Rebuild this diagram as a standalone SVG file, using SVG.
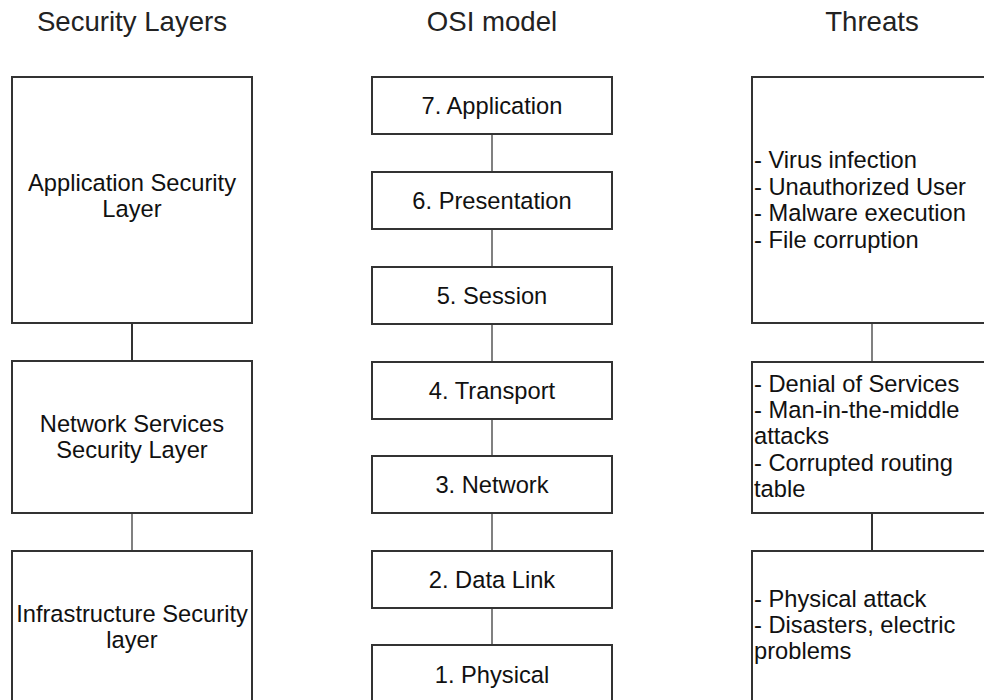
<svg xmlns="http://www.w3.org/2000/svg" width="984" height="700" viewBox="0 0 984 700">
  <style>
    .box { fill: #ffffff; stroke: #333333; stroke-width: 2; }
    .title { font-family: "Liberation Sans", Arial, sans-serif; font-size: 27.6px; fill: #222222; text-anchor: middle; }
    .lbl { font-family: "Liberation Sans", Arial, sans-serif; font-size: 23.7px; fill: #111111; }
    .mid { text-anchor: middle; }
    .edge { stroke-width: 2; fill: none; }
    .dark { stroke: #333333; }
    .grey { stroke: #808080; }
  </style>
  <rect width="984" height="700" fill="#ffffff"/>

  <!-- column headings -->
  <g id="headings">
    <text class="title" x="132" y="31">Security Layers</text>
    <text class="title" x="492" y="31">OSI model</text>
    <text class="title" x="872" y="31">Threats</text>
  </g>

  <!-- connectors -->
  <g id="connectors">
    <line class="edge dark" x1="132" y1="323" x2="132" y2="361"/>
    <line class="edge grey" x1="132" y1="513" x2="132" y2="551"/>
    <line class="edge grey" x1="492" y1="134" x2="492" y2="172"/>
    <line class="edge grey" x1="492" y1="229" x2="492" y2="267"/>
    <line class="edge grey" x1="492" y1="324" x2="492" y2="362"/>
    <line class="edge grey" x1="492" y1="419" x2="492" y2="456"/>
    <line class="edge grey" x1="492" y1="513" x2="492" y2="551"/>
    <line class="edge grey" x1="492" y1="608" x2="492" y2="645"/>
    <line class="edge grey" x1="872" y1="323" x2="872" y2="362"/>
    <line class="edge dark" x1="872" y1="513" x2="872" y2="551"/>
  </g>

  <!-- security layers -->
  <g id="app-security">
    <rect class="box" x="12" y="77" width="240" height="246"/>
    <text class="lbl mid" x="132" y="191">Application Security</text>
    <text class="lbl mid" x="132" y="217">Layer</text>
  </g>
  <g id="network-security">
    <rect class="box" x="12" y="361" width="240" height="152"/>
    <text class="lbl mid" x="132" y="432">Network Services</text>
    <text class="lbl mid" x="132" y="458">Security Layer</text>
  </g>
  <g id="infra-security">
    <rect class="box" x="12" y="551" width="240" height="160"/>
    <text class="lbl mid" x="132" y="622">Infrastructure Security</text>
    <text class="lbl mid" x="132" y="648">layer</text>
  </g>

  <!-- OSI layers -->
  <g id="osi-7">
    <rect class="box" x="372" y="77" width="240" height="57"/>
    <text class="lbl mid" x="492" y="114">7. Application</text>
  </g>
  <g id="osi-6">
    <rect class="box" x="372" y="172" width="240" height="57"/>
    <text class="lbl mid" x="492" y="209">6. Presentation</text>
  </g>
  <g id="osi-5">
    <rect class="box" x="372" y="267" width="240" height="57"/>
    <text class="lbl mid" x="492" y="304">5. Session</text>
  </g>
  <g id="osi-4">
    <rect class="box" x="372" y="362" width="240" height="57"/>
    <text class="lbl mid" x="492" y="399">4. Transport</text>
  </g>
  <g id="osi-3">
    <rect class="box" x="372" y="456" width="240" height="57"/>
    <text class="lbl mid" x="492" y="493">3. Network</text>
  </g>
  <g id="osi-2">
    <rect class="box" x="372" y="551" width="240" height="57"/>
    <text class="lbl mid" x="492" y="588">2. Data Link</text>
  </g>
  <g id="osi-1">
    <rect class="box" x="372" y="645" width="240" height="66"/>
    <text class="lbl mid" x="492" y="683">1. Physical</text>
  </g>

  <!-- threats -->
  <g id="threats-app">
    <rect class="box" x="752" y="77" width="240" height="246"/>
    <text class="lbl" x="754" y="168">- Virus infection</text>
    <text class="lbl" x="754" y="195">- Unauthorized User</text>
    <text class="lbl" x="754" y="221">- Malware execution</text>
    <text class="lbl" x="754" y="248">- File corruption</text>
  </g>
  <g id="threats-network">
    <rect class="box" x="752" y="362" width="240" height="151"/>
    <text class="lbl" x="754" y="392">- Denial of Services</text>
    <text class="lbl" x="754" y="418">- Man-in-the-middle</text>
    <text class="lbl" x="754" y="444">attacks</text>
    <text class="lbl" x="754" y="471">- Corrupted routing</text>
    <text class="lbl" x="754" y="497">table</text>
  </g>
  <g id="threats-infra">
    <rect class="box" x="752" y="551" width="240" height="160"/>
    <text class="lbl" x="754" y="607">- Physical attack</text>
    <text class="lbl" x="754" y="633">- Disasters, electric</text>
    <text class="lbl" x="754" y="659">problems</text>
  </g>
</svg>
